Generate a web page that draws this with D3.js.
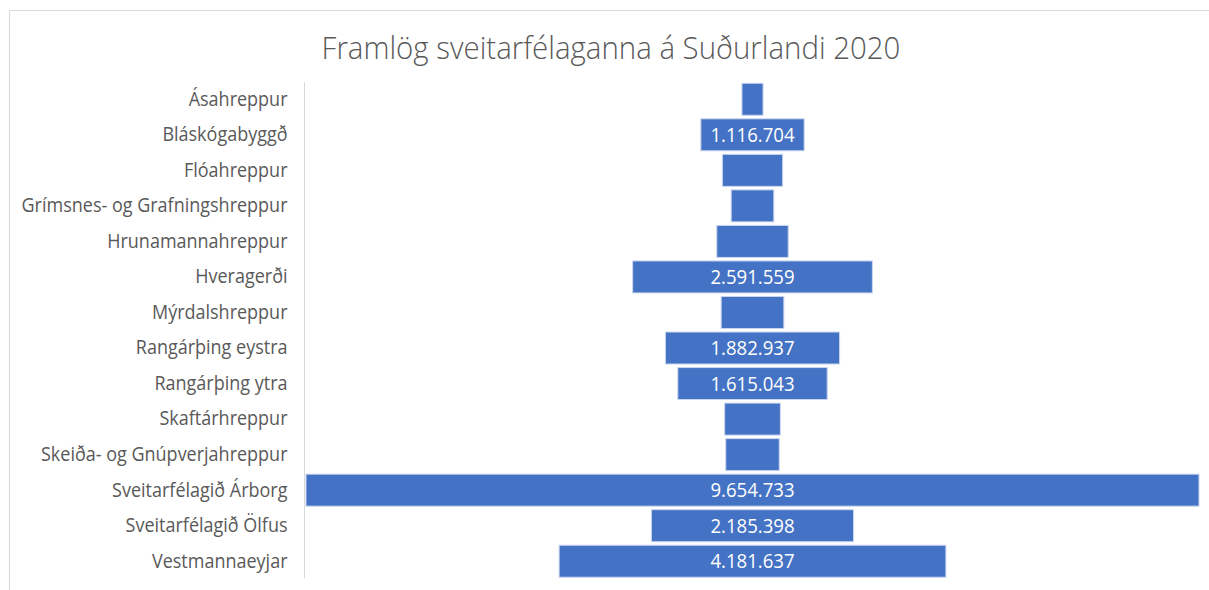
<!DOCTYPE html>
<html>
<head>
<meta charset="utf-8">
<script src="https://cdn.jsdelivr.net/npm/d3@7"></script>
<style>
  html, body { margin: 0; padding: 0; background: #fff; }
  svg { display: block; }
</style>
</head>
<body>
<svg id="chart" width="1209" height="590"></svg>
<script>
const categories = [
  "Ásahreppur",
  "Bláskógabyggð",
  "Flóahreppur",
  "Grímsnes- og Grafningshreppur",
  "Hrunamannahreppur",
  "Hveragerði",
  "Mýrdalshreppur",
  "Rangárþing eystra",
  "Rangárþing ytra",
  "Skaftárhreppur",
  "Skeiða- og Gnúpverjahreppur",
  "Sveitarfélagið Árborg",
  "Sveitarfélagið Ölfus",
  "Vestmannaeyjar"
];
const values = [
  228000, 1116704, 652000, 461000, 772000, 2591559, 678000,
  1882937, 1615043, 602000, 578000, 9654733, 2185398, 4181637
];
const shownLabels = [
  false, true, false, false, false, true, false,
  true, true, false, false, true, true, true
];
const title = "Framlög sveitarfélaganna á Suðurlandi 2020";

const FONT = "'Open Sans', sans-serif";
const svg = d3.select("#chart");

// chart border
svg.append("rect")
  .attr("x", 9.5).attr("y", 10.5)
  .attr("width", 1300).attr("height", 700)
  .attr("fill", "none").attr("stroke", "#d9d9d9").attr("stroke-width", 1);

const TS = 0.95;
svg.append("text")
  .attr("transform", `translate(611,59) scale(${TS},1)`)
  .attr("text-anchor", "middle")
  .attr("font-family", FONT)
  .attr("font-weight", 300)
  .attr("font-size", 31)
  .attr("fill", "#595959")
  .text(title);

const maxV = d3.max(values);
const x = d3.scaleLinear().domain([-maxV / 2, maxV / 2]).range([306, 1199]);
const y = d3.scaleBand().domain(categories).range([81.5, 579]).paddingInner(0.1).paddingOuter(0.05);

const data = categories.map((c, i) => ({ c, v: values[i], show: shownLabels[i] }));

svg.append("g").selectAll("rect")
  .data(data).join("rect")
  .attr("x", d => x(-d.v / 2))
  .attr("width", d => x(d.v / 2) - x(-d.v / 2))
  .attr("y", d => y(d.c))
  .attr("height", y.bandwidth())
  .attr("fill", "#4472C4")
  .attr("stroke", "#c9d6ef")
  .attr("stroke-width", 1);

const fmt = v => d3.format(",")(v).replace(/,/g, ".");

const VS = 0.93;
svg.append("g").selectAll("text")
  .data(data.filter(d => d.show)).join("text")
  .attr("transform", d => `translate(${x(0)},${y(d.c) + y.bandwidth() / 2}) scale(${VS},1)`)
  .attr("dy", "0.36em")
  .attr("text-anchor", "middle")
  .attr("font-family", FONT)
  .attr("font-size", 20)
  .attr("fill", "#ffffff")
  .text(d => fmt(d.v));

// axis
const LS = 0.9;
const axis = d3.axisLeft(y).tickSize(0).tickPadding(17);
const ag = svg.append("g").attr("transform", "translate(304.5,0)").call(axis);
ag.select(".domain").attr("stroke", "#d9d9d9").attr("d", "M0,82V578");
ag.selectAll("text")
  .attr("x", -17 / LS)
  .attr("transform", `scale(${LS},1)`)
  .attr("font-family", FONT)
  .attr("font-size", 20)
  .attr("fill", "#595959");
</script>
</body>
</html>
